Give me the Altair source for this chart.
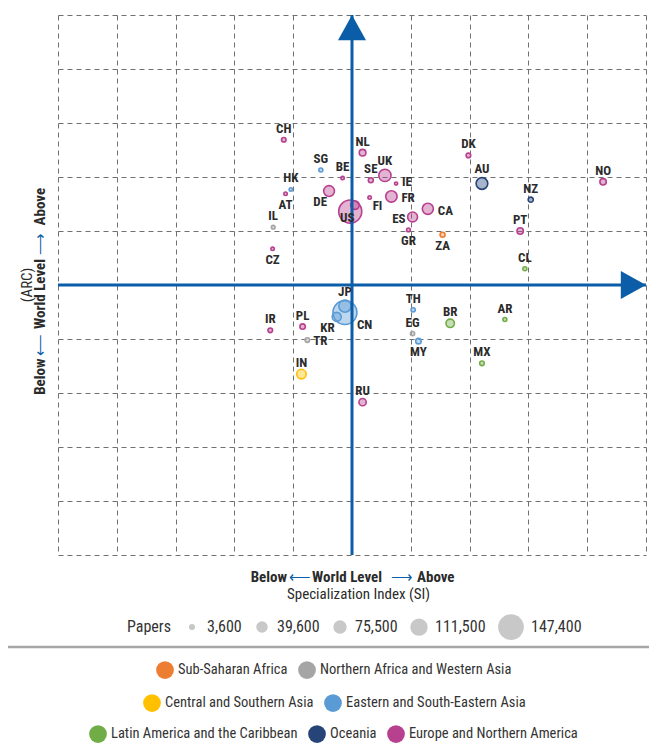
import altair as alt
import pandas as pd

# ---------------- data ----------------
codes = ["CH", "NL", "SG", "BE", "UK", "SE", "IE", "HK", "AT", "DE",
         "FR", "FI", "US", "IT", "CA", "ES", "IL", "GR", "ZA", "CZ",
         "DK", "AU", "NO", "NZ", "PT", "CL", "AR", "BR", "TH", "IR",
         "PL", "EG", "TR", "MY", "MX", "IN", "RU", "CN", "JP", "KR"]
# Specialization Index (grid units, 0 = world level)
si = [-1.16, 0.18, -0.53, -0.16, 0.56, 0.32, 0.75, -1.04, -1.13, -0.39,
      0.67, 0.30, -0.03, 0.05, 1.29, 1.03, -1.34, 0.96, 1.54, -1.35,
      1.98, 2.21, 4.27, 3.04, 2.86, 2.94, 2.60, 1.67, 1.04, -1.39,
      -0.84, 1.03, -0.76, 1.13, 2.21, -0.86, 0.18, -0.12, -0.12, -0.26]
# Average of Relative Citations (grid units, 0 = world level)
arc = [2.69, 2.45, 2.13, 1.98, 2.03, 1.94, 1.88, 1.77, 1.69, 1.74,
       1.64, 1.62, 1.36, 1.48, 1.41, 1.26, 1.07, 1.02, 0.93, 0.67,
       2.40, 1.88, 1.91, 1.58, 1.00, 0.30, -0.64, -0.71, -0.46, -0.84,
       -0.77, -0.90, -1.02, -1.04, -1.45, -1.65, -2.17, -0.51, -0.39, -0.59]
papers = [2000, 5900, 1500, 1100, 53500, 2300, 900, 1100, 1100, 33500,
          38000, 1100, 134600, 17600, 35800, 26500, 1300, 1300, 2300, 1100,
          2000, 42800, 4600, 2500, 4600, 1500, 1500, 16000, 1700, 2000,
          2850, 1700, 2000, 2850, 2000, 23900, 9200, 138700, 53500, 20200]

SSA = "Sub-Saharan Africa"
NAWA = "Northern Africa and Western Asia"
CSA = "Central and Southern Asia"
ESEA = "Eastern and South-Eastern Asia"
LAC = "Latin America and the Caribbean"
OCE = "Oceania"
ENA = "Europe and Northern America"

regions = [ENA, ENA, ESEA, ENA, ENA, ENA, ENA, ESEA, ENA, ENA,
           ENA, ENA, ENA, ENA, ENA, ENA, NAWA, ENA, SSA, ENA,
           ENA, OCE, ENA, OCE, ENA, LAC, LAC, LAC, ESEA, ENA,
           ENA, NAWA, NAWA, ESEA, LAC, CSA, ENA, ESEA, ESEA, ESEA]

# where each country code sits relative to its bubble
label_place = ["top", "top", "top", "top", "topfar", "top", "upright", "top", "bottom", "lowleft",
               "rightfar", "lowright", "center", "none", "rightfar", "left", "top", "bottom", "bottom", "bottom",
               "top", "topfar", "top", "top", "top", "top", "top", "top", "top", "top",
               "top", "top", "right", "bottom", "top", "top", "top", "lowrightfar", "topfar", "lowleft"]

region_names = [SSA, NAWA, CSA, ESEA, LAC, OCE, ENA]
region_colors = ["#ED7D31", "#A5A5A5", "#FFC000", "#5B9BD5", "#70AD47", "#264478", "#B8418F"]
legend_rows = [[0, 1], [2, 3], [4, 5, 6]]

size_legend_values = [3600, 39600, 75500, 111500, 147400]

# ---------------- styles ----------------
FONT = "Roboto Condensed, Liberation Sans Narrow, Roboto, sans-serif"
BLUE = "#0B5DA7"
TXT = "#2b2b2b"
XMIN, XMAX, YMIN, YMAX = -5, 5, -5, 5

size_domain = [0] + size_legend_values
size_range = [0, 38, 133, 177, 299, 660]

PLACES = {
    "top": dict(align="center", dx=0, dy=-11),
    "topfar": dict(align="center", dx=0, dy=-14.5),
    "bottom": dict(align="center", dx=0, dy=11),
    "right": dict(align="left", dx=6, dy=1),
    "upright": dict(align="left", dx=6, dy=-1.5),
    "rightfar": dict(align="left", dx=10, dy=2),
    "left": dict(align="right", dx=-7, dy=2),
    "center": dict(align="center", dx=-3, dy=6),
    "lowright": dict(align="left", dx=3, dy=8),
    "lowrightfar": dict(align="left", dx=12, dy=12),
    "lowleft": dict(align="right", dx=-2, dy=11),
}

df = pd.DataFrame(dict(code=codes, si=si, arc=arc, papers=papers,
                       region=regions, place=label_place))
one = pd.DataFrame({"k": [0]})

xscale = alt.Scale(domain=[XMIN, XMAX], nice=False, zero=False)
yscale = alt.Scale(domain=[YMIN, YMAX], nice=False, zero=False)
gaxis = alt.Axis(values=list(range(XMIN, XMAX + 1)), grid=True, gridDash=[5, 4],
                 gridColor="#707070", gridWidth=1, domain=False, ticks=False,
                 labels=False, title="")
X = alt.X("si:Q", scale=xscale, axis=gaxis)
Y = alt.Y("arc:Q", scale=yscale, axis=gaxis)
sscale = alt.Scale(domain=size_domain, range=size_range)

# size legend (drawn from an empty layer so its symbols are solid grey)
size_legend = alt.Chart(df).transform_filter("false").mark_circle(opacity=1, color="#C8C8C8").encode(
    x=X, y=Y,
    size=alt.Size("papers:Q", scale=sscale,
                  legend=alt.Legend(title="Papers", values=size_legend_values,
                                    labelExpr="format(datum.value, ',')",
                                    orient="none", direction="horizontal",
                                    legendX=69, legendY=599, titleOrient="left",
                                    titleAnchor="middle", titleBaseline="middle",
                                    symbolFillColor="#C8C8C8", symbolStrokeWidth=0,
                                    columnPadding=12, labelOffset=7, titlePadding=12)),
)

legend_pos = [(98, 646), (85, 679), (31, 710)]
groups = []
for row, (lx, ly) in zip(legend_rows, legend_pos):
    names = [region_names[i] for i in row]
    cols = [region_colors[i] for i in row]
    cscale = alt.Scale(domain=names, range=cols)
    src = alt.Chart(df).transform_filter("false").mark_circle(opacity=1).encode(
        x=X, y=Y,
        color=alt.Color("region:N", scale=cscale,
                        legend=alt.Legend(title="", orient="none", direction="horizontal",
                                          legendX=lx, legendY=ly, symbolSize=314,
                                          symbolStrokeWidth=0, columnPadding=10,
                                          labelOffset=4, labelLimit=600,
                                          labelFontSize=14.5)),
    )
    sub = alt.Chart(df).transform_filter(alt.FieldOneOfPredicate(field="region", oneOf=names))
    fill = sub.mark_circle(opacity=1, fillOpacity=0.4, strokeWidth=0).encode(
        x=X, y=Y,
        color=alt.Color("region:N", scale=cscale, legend=None),
        size=alt.Size("papers:Q", scale=sscale, legend=None),
    )
    ring = sub.mark_circle(filled=False, opacity=1, strokeWidth=1.6).encode(
        x=X, y=Y,
        color=alt.Color("region:N", scale=cscale, legend=None),
        size=alt.Size("papers:Q", scale=sscale, legend=None),
    )
    groups.append(alt.layer(src, fill, ring))

# blue world-level axes with arrow heads
h_axis = alt.Chart(one).mark_rule(color=BLUE, strokeWidth=3).encode(
    x=alt.X(datum=XMIN, scale=xscale, axis=gaxis), x2=alt.X2(datum=XMAX),
    y=alt.Y(datum=0, scale=yscale, axis=gaxis))
v_axis = alt.Chart(one).mark_rule(color=BLUE, strokeWidth=3).encode(
    y=alt.Y(datum=YMIN, scale=yscale, axis=gaxis), y2=alt.Y2(datum=YMAX),
    x=alt.X(datum=0, scale=xscale, axis=gaxis))
arrow_r = alt.Chart(one).mark_point(shape="M-1.8,-1L0,0L-1.8,1Z", filled=True, fill=BLUE,
                                    opacity=1, size=784, strokeWidth=0).encode(
    x=alt.X(datum=XMAX, scale=xscale, axis=gaxis), y=alt.Y(datum=0, scale=yscale, axis=gaxis))
arrow_u = alt.Chart(one).mark_point(shape="M-1,1.8L0,0L1,1.8Z", filled=True, fill=BLUE,
                                    opacity=1, size=784, strokeWidth=0).encode(
    x=alt.X(datum=0, scale=xscale, axis=gaxis), y=alt.Y(datum=YMAX, scale=yscale, axis=gaxis))

# country labels
label_layers = []
for name, st in PLACES.items():
    label_layers.append(
        alt.Chart(df).transform_filter(alt.datum.place == name).mark_text(
            font=FONT, fontSize=13, fontWeight="bold", color=TXT, baseline="middle", **st
        ).encode(x=X, y=Y, text="code:N")
    )

# axis titles and separator (annotations, pixel placed)
def txt(t, x, y, color=TXT, weight="bold", size=15, align="center", angle=0):
    kw = dict(text=t, font=FONT, fontSize=size, fontWeight=weight, color=color,
              align=align, baseline="middle")
    if angle:
        kw["angle"] = angle
    return alt.Chart(one).mark_text(**kw).encode(x=alt.value(x), y=alt.value(y))

annos = [
    txt("Below", 229, 562, align="right"),
    txt("\u27f5", 242, 562, color=BLUE, weight="normal"),
    txt("World Level", 289, 562),
    txt("\u27f6", 343.5, 562, color=BLUE, weight="normal"),
    txt("Above", 359, 562, align="left"),
    txt("Specialization Index (SI)", 300.5, 579, weight="normal"),
    txt("Above", -18.5, 191.7, angle=270),
    txt("\u27f6", -18.5, 228.5, color=BLUE, weight="normal", angle=270),
    txt("World Level", -18.5, 279, angle=270),
    txt("\u27f5", -18.5, 329.5, color=BLUE, weight="normal", angle=270),
    txt("Below", -18.5, 361.7, angle=270),
    txt("(ARC)", -31, 270, weight="normal", angle=270),
]
sep = alt.Chart(one).mark_rule(color="#A6A6A6", strokeWidth=2.5).encode(
    x=alt.value(-50), x2=alt.value(597), y=alt.value(632))

chart = alt.layer(
    size_legend, *groups, h_axis, v_axis, arrow_r, arrow_u, *label_layers, *annos, sep
).resolve_scale(color="independent").properties(
    width=588, height=540,
    padding={"left": 50, "top": 7, "right": 3, "bottom": 195},
    autosize=alt.AutoSizeParams(type="none"),
    background="white",
).configure_view(strokeWidth=0).configure_legend(
    labelFont=FONT, labelFontSize=16, labelColor="#333333", labelFontWeight="normal",
    titleFont=FONT, titleFontSize=16, titleColor="#333333", titleFontWeight="normal",
    padding=0,
)

chart.save("out.html", embed_options={"renderer": "svg", "actions": False})
